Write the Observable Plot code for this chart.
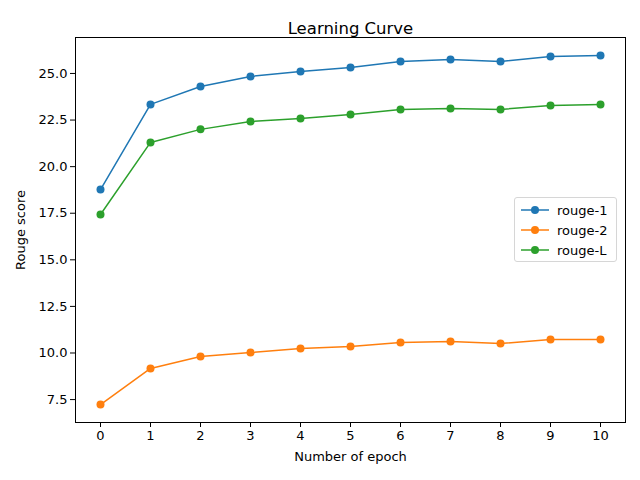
<!DOCTYPE html>
<html><head><meta charset="utf-8">
<script src="https://cdn.jsdelivr.net/npm/d3@7"></script>
<script src="https://cdn.jsdelivr.net/npm/@observablehq/plot@0.6"></script>
<style>
body{margin:0;background:#fff;font-family:"DejaVu Sans",sans-serif;}
#wrap{position:relative;width:640px;height:480px;}
#legend{position:absolute;left:514px;top:197px;width:103px;height:65px;border:1px solid #d6d6d6;border-radius:3px;background:rgba(255,255,255,0.8);font-size:13px;color:#000;box-sizing:border-box;padding:2px 0 0 6px;}
#legend div{height:20px;display:flex;align-items:center;}
#legend svg{margin-right:8px;}
</style></head><body>
<div id="wrap"><div id="chart"></div><div id="legend"></div></div>
<script>
const epochs = [0, 1, 2, 3, 4, 5, 6, 7, 8, 9, 10];
const rouge1 = [18.77, 23.34, 24.30, 24.84, 25.11, 25.32, 25.64, 25.75, 25.64, 25.91, 25.97];
const rouge2 = [7.23, 9.17, 9.81, 10.02, 10.24, 10.35, 10.56, 10.62, 10.51, 10.72, 10.72];
const rougeL = [17.43, 21.30, 22.00, 22.42, 22.58, 22.80, 23.07, 23.12, 23.07, 23.28, 23.34];
const seriesNames = ["rouge-1", "rouge-2", "rouge-L"];
const colors = ["#1f77b4", "#ff7f0e", "#2ca02c"];
const yTicks = [7.5, 10, 12.5, 15, 17.5, 20, 22.5, 25];

const rows = [];
[rouge1, rouge2, rougeL].forEach((vals, i) =>
  vals.forEach((v, j) => rows.push({ epoch: epochs[j], value: v, series: seriesNames[i] })));

const plot = Plot.plot({
  width: 640, height: 480,
  marginTop: 37, marginBottom: 58, marginLeft: 75, marginRight: 15,
  style: { fontFamily: "DejaVu Sans, sans-serif", fontSize: "13px", color: "#000" },
  x: { domain: [-0.5, 10.5] },
  y: { domain: [6.27, 26.93] },
  color: { domain: seriesNames, range: colors },
  marks: [
    Plot.frame({ stroke: "#000" }),
    Plot.axisX({ ticks: epochs, tickFormat: d => d, label: "Number of epoch", labelAnchor: "center", labelOffset: 38, labelArrow: "none", tickSize: 5, tickPadding: 3 }),
    Plot.axisY({ ticks: yTicks, tickFormat: d => d.toFixed(1), label: "Rouge score", labelAnchor: "center", labelOffset: 60, labelArrow: "none", tickSize: 5, tickPadding: 3 }),
    Plot.line(rows, { x: "epoch", y: "value", z: "series", stroke: "series", strokeWidth: 1.5 }),
    Plot.dot(rows, { x: "epoch", y: "value", fill: "series", r: 4 }),
    Plot.text(["Learning Curve"], { frameAnchor: "top", dy: -15, fontSize: 16.5, fill: "#000" })
  ]
});
document.getElementById("chart").appendChild(plot);

const leg = document.getElementById("legend");
seriesNames.forEach((n, i) => {
  const d = document.createElement("div");
  d.innerHTML = `<svg width="28" height="10"><line x1="0" y1="5" x2="28" y2="5" stroke="${colors[i]}" stroke-width="1.5"/><circle cx="14" cy="5" r="4" fill="${colors[i]}"/></svg>${n}`;
  leg.appendChild(d);
});
</script></body></html>
